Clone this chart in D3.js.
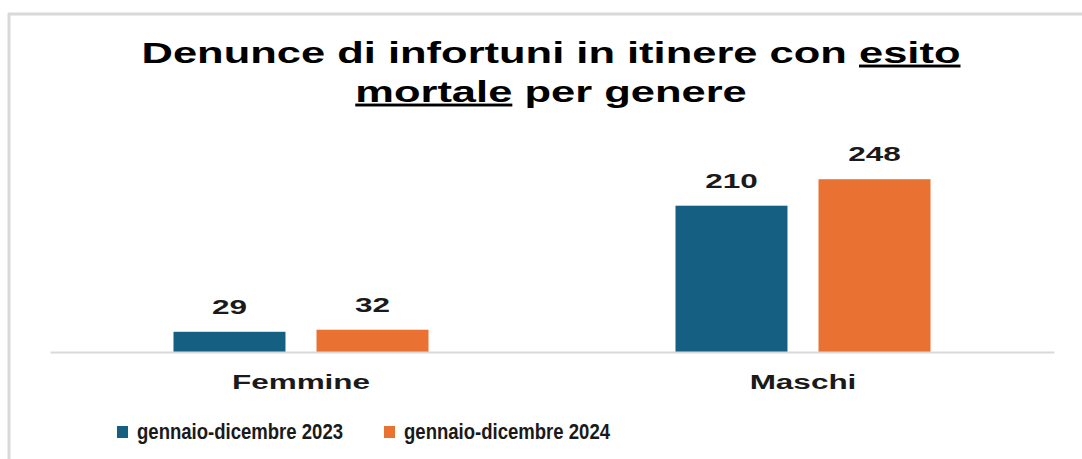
<!DOCTYPE html>
<html>
<head>
<meta charset="utf-8">
<script src="https://cdn.jsdelivr.net/npm/d3@7"></script>
<style>
  body { margin: 0; background: #fff; }
  svg { display: block; }
</style>
</head>
<body>
<script>
// chart data
var categories = ['Femmine', 'Maschi'];
var seriesNames = ['gennaio-dicembre 2023', 'gennaio-dicembre 2024'];
var values2023 = [29, 210];
var values2024 = [32, 248];
var seriesColors = ['#156082', '#e97132'];

var W = 1082, H = 459;
var stretch = 1.5; // the picture is widened horizontally
var font = '"Liberation Sans", Arial, sans-serif';

var svg = d3.select('body').append('svg').attr('width', W).attr('height', H);

// frame (top and left only)
svg.append('line').attr('x1', 8).attr('x2', W).attr('y1', 14).attr('y2', 14)
    .attr('stroke', '#d9d9d9').attr('stroke-width', 3);
svg.append('line').attr('x1', 9).attr('x2', 9).attr('y1', 13).attr('y2', H)
    .attr('stroke', '#d9d9d9').attr('stroke-width', 3);

// title
var title = svg.append('text')
    .attr('transform', 'translate(551,63) scale(' + stretch + ',1)')
    .attr('text-anchor', 'middle')
    .attr('font-family', font).attr('font-weight', 'bold').attr('font-size', '29px')
    .attr('fill', '#000');
title.append('tspan').text('Denunce di infortuni in itinere con ');
title.append('tspan').attr('text-decoration', 'underline').text('esito');
var title2 = svg.append('text')
    .attr('transform', 'translate(551,102) scale(' + stretch + ',1)')
    .attr('text-anchor', 'middle')
    .attr('font-family', font).attr('font-weight', 'bold').attr('font-size', '29px')
    .attr('fill', '#000');
title2.append('tspan').attr('text-decoration', 'underline').text('mortale');
title2.append('tspan').text(' per genere');

// scales
var x0 = d3.scaleBand().domain(categories).range([50, 1054])
    .paddingInner(0.492).paddingOuter(0.246);
var x1 = d3.scaleBand().domain(seriesNames).range([0, x0.bandwidth()])
    .paddingInner(0.217).paddingOuter(0);
var y = d3.scaleLinear().domain([0, 300]).range([352, 143]);

var rows = categories.map(function(c, i) {
    return { cat: c, vals: [
        { s: seriesNames[0], v: values2023[i], color: seriesColors[0] },
        { s: seriesNames[1], v: values2024[i], color: seriesColors[1] }
    ] };
});

var groups = svg.selectAll('.grp').data(rows).enter().append('g')
    .attr('class', 'grp')
    .attr('transform', function(d) { return 'translate(' + x0(d.cat) + ',0)'; });

groups.selectAll('rect').data(function(d) { return d.vals; }).enter().append('rect')
    .attr('x', function(d) { return x1(d.s); })
    .attr('y', function(d) { return y(d.v); })
    .attr('width', x1.bandwidth())
    .attr('height', function(d) { return y(0) - y(d.v); })
    .attr('fill', function(d) { return d.color; });

// value labels
groups.selectAll('.lbl').data(function(d) { return d.vals; }).enter().append('text')
    .attr('class', 'lbl')
    .attr('transform', function(d) {
        return 'translate(' + (x1(d.s) + x1.bandwidth() / 2) + ',' + (y(d.v) - 18) + ') scale(' + stretch + ',1)';
    })
    .attr('text-anchor', 'middle')
    .attr('font-family', font).attr('font-weight', 'bold').attr('font-size', '21px')
    .attr('fill', '#1a1a1a')
    .text(function(d) { return d.v; });

// category axis
var axis = svg.append('g').attr('transform', 'translate(0,' + y(0) + ')')
    .call(d3.axisBottom(x0).tickSize(0).tickSizeOuter(0));
axis.select('.domain').attr('stroke', '#d9d9d9').attr('stroke-width', 2);
axis.selectAll('.tick text')
    .attr('y', 37).attr('dy', 0)
    .attr('transform', 'scale(' + stretch + ',1)')
    .attr('font-family', font).attr('font-weight', 'bold').attr('font-size', '21px')
    .attr('fill', '#1a1a1a');

// legend
var legendX = [117, 384];
var legend = svg.selectAll('.leg').data(seriesNames).enter().append('g')
    .attr('class', 'leg')
    .attr('transform', function(d, i) { return 'translate(' + legendX[i] + ',426)'; });
legend.append('rect').attr('width', 11).attr('height', 12)
    .attr('fill', function(d, i) { return seriesColors[i]; });
legend.append('text')
    .attr('x', 20).attr('y', 13)
    .attr('font-family', font).attr('font-weight', 'bold').attr('font-size', '22px')
    .attr('textLength', 206).attr('lengthAdjust', 'spacingAndGlyphs')
    .attr('fill', '#1a1a1a')
    .text(function(d) { return d; });
</script>
</body>
</html>
